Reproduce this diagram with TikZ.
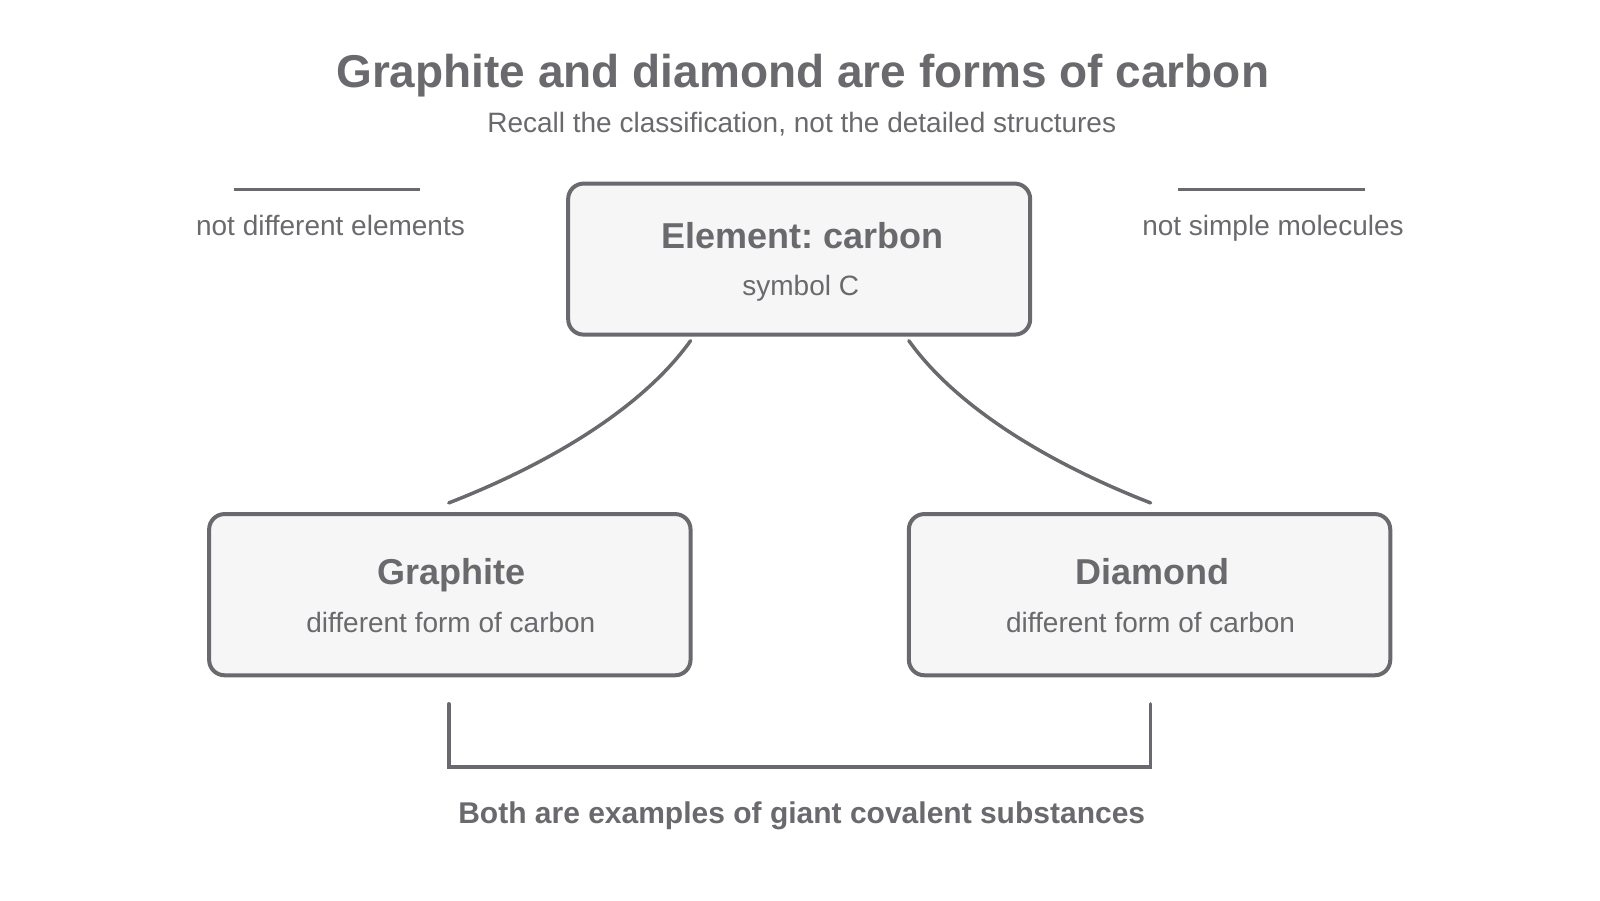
\documentclass[tikz,border=0pt]{standalone}
\usepackage{fontspec}
\setmainfont{Liberation Sans}
\usepackage{tikz}
\usetikzlibrary{arrows,shapes,positioning,calc}
\definecolor{inkgray}{HTML}{6A6A6E}
\definecolor{boxfill}{HTML}{F6F6F6}
\frenchspacing
\tikzset{
    raw box/.style={rectangle, draw=inkgray, line width=2pt, fill=boxfill, rounded corners=7.7pt, align=center, text=inkgray},
    element box/.style={raw box, minimum width=231pt, minimum height=75.5pt},
    form box/.style={raw box, minimum width=240.7pt, minimum height=80.6pt},
    head/.style={anchor=base, font=\fontsize{18}{22}\selectfont\bfseries},
    sub/.style={anchor=base, font=\fontsize{14}{17}\selectfont},
    link/.style={draw=inkgray, line width=1.75pt, line cap=round},
    rule/.style={draw=inkgray, line width=1.4pt}
}
\begin{document}
\begin{tikzpicture}[x=0.51pt,y=-0.51pt,
	every node/.style={text=inkgray, inner sep=0pt}]
	\useasboundingbox (0,0) rectangle (1568.6,882.4);
		\node[anchor=base, font=\fontsize{23}{28}\selectfont\bfseries] (title) at (787,86) {Graphite and diamond are forms of carbon};
		\node[sub] (subtitle) at (786,130) {Recall the classification, not the detailed structures};
		\node[element box] (top) at (783.5,254) {};
		\node[head] (tophead) at (787,243.5) {Element: carbon};
		\node[sub] (topsub) at (785,290) {symbol C};
		\node[form box] (graphite) at (441,583) {};
		\node[head] (graphitehead) at (443,573.5) {Graphite};
		\node[sub] (graphitesub) at (442,620) {different form of carbon};
		\node[form box] (diamond) at (1127,583) {};
		\node[head] (diamondhead) at (1130,573.5) {Diamond};
		\node[sub] (diamondsub) at (1128,620) {different form of carbon};
		\node[sub] (leftnote) at (324,231) {not different elements};
		\node[sub] (rightnote) at (1248,231) {not simple molecules};
		\node[anchor=base, font=\fontsize{15}{18}\selectfont\bfseries] (both) at (786,807.5) {Both are examples of giant covalent substances};
		\draw[rule] ([shift={(-95,-45)}]leftnote.base) -- ([shift={(88,-45)}]leftnote.base);
		\draw[rule] ([shift={(-93,-45)}]rightnote.base) -- ([shift={(90,-45)}]rightnote.base);
		\draw[link] ([shift={(-106.5,4)}]top.south) .. controls +(-50,70) and +(90,-35) .. ([shift={(-1,-9)}]graphite.north);
		\draw[link] ([shift={(107.5,4)}]top.south) .. controls +(50,70) and +(-90,-35) .. ([shift={(1,-9)}]diamond.north);
		\draw[link] ([shift={(-1,26)}]graphite.south) -- ++(0,62) -| ([shift={(1,26)}]diamond.south);
\end{tikzpicture}
\end{document}
